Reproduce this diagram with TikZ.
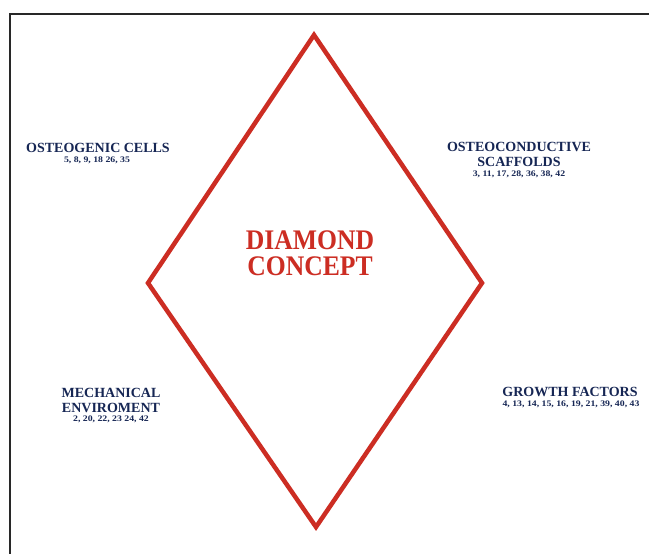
\documentclass[tikz,border=0pt]{standalone}
\usepackage{fontspec}
\setmainfont{Liberation Serif}
\definecolor{dred}{RGB}{204,45,35}
\definecolor{navy}{RGB}{22,38,84}
\definecolor{frm}{RGB}{40,40,40}
\begin{document}
\begin{tikzpicture}[x=1pt,y=-1pt,
  lbl/.style={text=navy,font=\bfseries\fontsize{14}{15}\selectfont,align=center,inner sep=0pt},
  refs/.style={text=navy,font=\bfseries\fontsize{8.5}{9}\selectfont,inner sep=0pt,xscale=1.15},
  ttl/.style={text=dred,font=\bfseries\fontsize{27}{25}\selectfont,align=center,inner sep=0pt,xscale=0.95,yscale=1.05}]
\useasboundingbox (0,0) rectangle (649,554);
\fill[white] (0,0) rectangle (649,554);
% frame
\draw[frm,line width=2pt] (9.5,554) -- (9.5,13.5) -- (649,13.5);
% diamond
\coordinate (T) at (314,35);
\coordinate (R) at (482,283);
\coordinate (B) at (316,527);
\coordinate (L) at (148,283);
\draw[dred,line width=4.5pt,line join=miter] (T) -- (R) -- (B) -- (L) -- cycle;
% title
\node[ttl] (title) at (310,253) {DIAMOND\\CONCEPT};
% labels
\node[lbl] (oc) at (98,147.5) {OSTEOGENIC CELLS};
\node[refs] (ocr) at (97,160) {5, 8, 9, 18 26, 35};
\node[lbl] (os) at (519,154) {OSTEOCONDUCTIVE\\SCAFFOLDS};
\node[refs] (osr) at (519,174) {3, 11, 17, 28, 36, 38, 42};
\node[lbl] (me) at (111,400) {MECHANICAL\\ENVIROMENT};
\node[refs] (mer) at (111,419) {2, 20, 22, 23 24, 42};
\node[lbl] (gf) at (570,391.5) {GROWTH FACTORS};
\node[refs] (gfr) at (571,404) {4, 13, 14, 15, 16, 19, 21, 39, 40, 43};
\end{tikzpicture}
\end{document}
